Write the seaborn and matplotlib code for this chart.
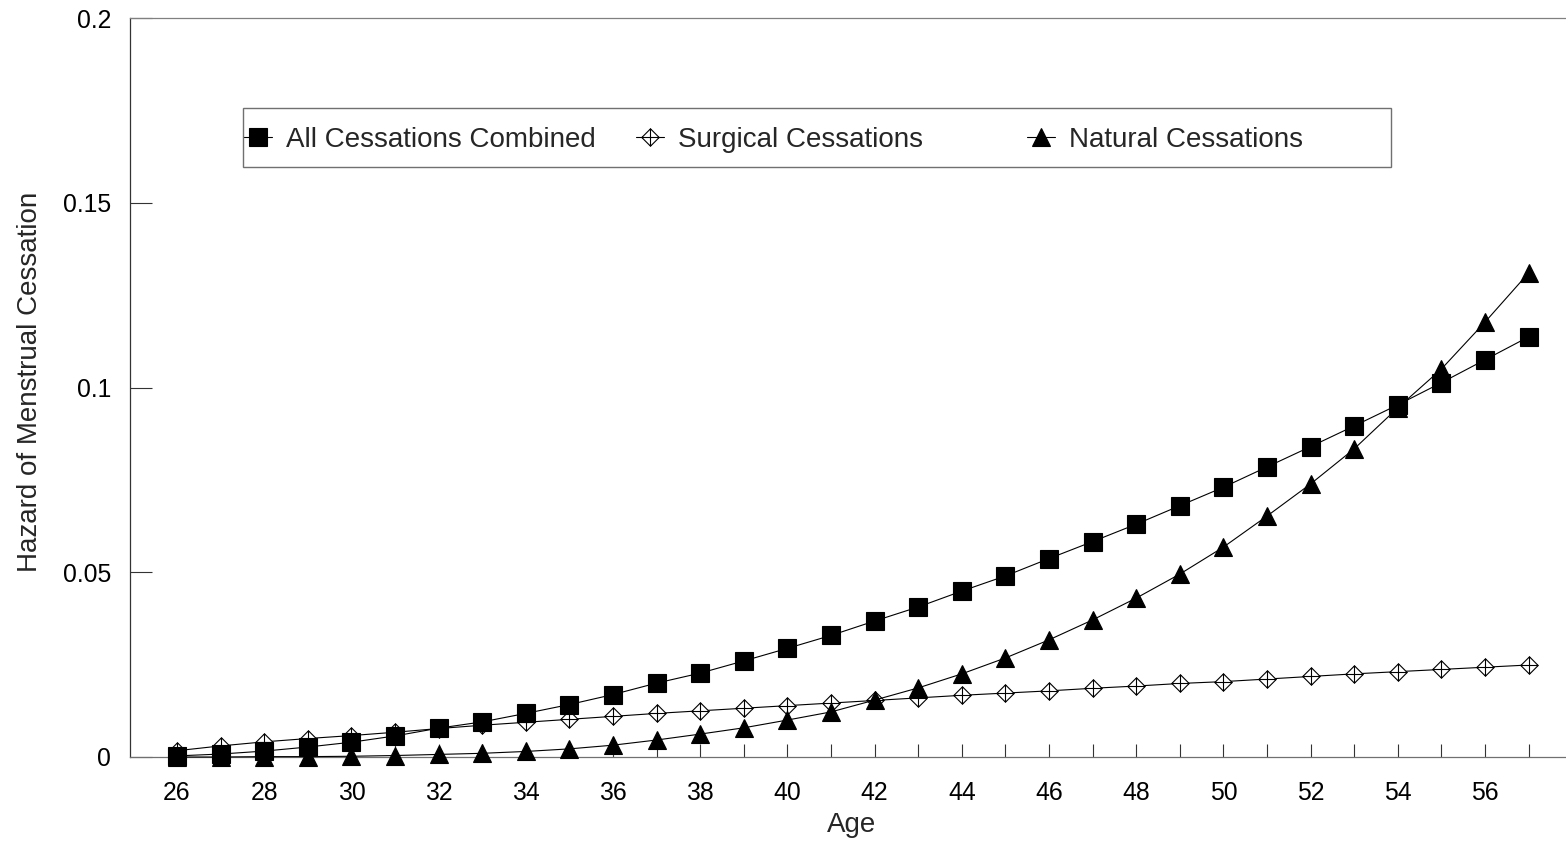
import matplotlib
matplotlib.use("Agg")
import matplotlib.pyplot as plt
import seaborn as sns
import pandas as pd
from matplotlib.path import Path
from matplotlib.patches import Rectangle

# ---------------- data ----------------
ages = list(range(26, 58))

all_combined = [0.0003, 0.0008, 0.0016, 0.0027, 0.0040, 0.0057, 0.0078, 0.0095,
                0.0118, 0.0142, 0.0169, 0.0200, 0.0227, 0.0260, 0.0294, 0.0329,
                0.0368, 0.0406, 0.0449, 0.0490, 0.0537, 0.0583, 0.0630, 0.0680,
                0.0730, 0.0785, 0.0840, 0.0896, 0.0953, 0.1013, 0.1075, 0.1137]

surgical = [0.0017, 0.0030, 0.0041, 0.0050, 0.0058, 0.0067, 0.0077, 0.0086,
            0.0094, 0.0102, 0.0110, 0.0118, 0.0125, 0.0132, 0.0139, 0.0146,
            0.0153, 0.0160, 0.0167, 0.0173, 0.0179, 0.0186, 0.0192, 0.0199,
            0.0204, 0.0211, 0.0218, 0.0225, 0.0231, 0.0237, 0.0243, 0.0249]

natural = [0.0000, 0.0000, 0.0001, 0.0001, 0.0002, 0.0004, 0.0007, 0.0010,
           0.0015, 0.0022, 0.0032, 0.0046, 0.0062, 0.0079, 0.0100, 0.0122,
           0.0154, 0.0187, 0.0225, 0.0268, 0.0317, 0.0371, 0.0430, 0.0495,
           0.0568, 0.0652, 0.0739, 0.0834, 0.0945, 0.1050, 0.1177, 0.1310]

series_labels = ["All Cessations Combined", "Surgical Cessations", "Natural Cessations"]
x_tick_labels = [str(a) if a % 2 == 0 else "" for a in ages]
y_ticks = [0, 0.05, 0.1, 0.15, 0.2]
y_tick_labels = ["0", "0.05", "0.1", "0.15", "0.2"]
x_label = "Age"
y_label = "Hazard of Menstrual Cessation"

# ---------------- style ----------------
sns.set_theme(style="white")
plt.rcParams["font.family"] = ["Liberation Sans", "DejaVu Sans"]

W, H = 1566, 843
fig = plt.figure(figsize=(W / 100, H / 100), dpi=100)
ax = fig.add_axes([130 / W, 1 - 757 / H, 1436 / W, 739 / H])

# diamond with a cross inside
diamond_plus = Path(
    [(0, 1), (1, 0), (0, -1), (-1, 0), (0, 1), (0, 1), (0, -1), (-1, 0), (1, 0)],
    [Path.MOVETO, Path.LINETO, Path.LINETO, Path.LINETO, Path.CLOSEPOLY,
     Path.MOVETO, Path.LINETO, Path.MOVETO, Path.LINETO],
)

df = pd.DataFrame({"age": ages, "all": all_combined,
                   "surg": surgical, "nat": natural})

line_kw = dict(color="black", linewidth=0.8, markeredgecolor="black",
               markeredgewidth=0.8, clip_on=False, ax=ax)

sns.lineplot(data=df, x="age", y="surg", marker=diamond_plus, markersize=12.5,
             markerfacecolor="white", zorder=3, **line_kw)
sns.lineplot(data=df, x="age", y="nat", marker="^", markersize=12.5,
             markerfacecolor="black", zorder=4, **line_kw)
sns.lineplot(data=df, x="age", y="all", marker="s", markersize=13,
             markerfacecolor="black", zorder=5, **line_kw)

h_surg, h_nat, h_all = ax.lines[0], ax.lines[1], ax.lines[2]

# axes limits and ticks
ax.set_xlim(26 - 47 / 43.6, 26 + (1566 - 177) / 43.6)
ax.set_ylim(0, 0.2)
ax.set_xticks(ages)
ax.set_xticklabels(x_tick_labels)
ax.set_yticks(y_ticks)
ax.set_yticklabels(y_tick_labels)
ax.tick_params(axis="x", direction="in", length=9.5, width=0.8, pad=17,
               labelsize=17.8, color="#333333", labelcolor="black", bottom=True)
ax.tick_params(axis="y", direction="in", length=15.5, width=0.8, pad=13.7,
               labelsize=17.8, color="#333333", labelcolor="black", left=True)

for side in ["left", "bottom", "top", "right"]:
    ax.spines[side].set_linewidth(0.9)
ax.spines["left"].set_color("#333333")
ax.spines["bottom"].set_color("#707070")
ax.spines["top"].set_color("#808080")
ax.spines["right"].set_visible(False)

ax.set_xlabel(x_label, fontsize=20)
ax.set_ylabel(y_label, fontsize=20)
ax.xaxis.set_label_coords((852 - 130) / 1436, (757 - 812) / 739)
ax.yaxis.set_label_coords((43 - 130) / 1436, (757 - 381.5) / 739)

# legend box
rect = Rectangle((243 / W, 1 - 167 / H), 1148 / W, 59 / H, transform=fig.transFigure,
                 facecolor="white", edgecolor="#707070", linewidth=1.0, zorder=6)
fig.add_artist(rect)

handles = [h_all, h_surg, h_nat]
starts = [244, 636, 1027]
for hnd, lab, sx in zip(handles, series_labels, starts):
    leg = fig.legend(handles=[hnd], labels=[lab], loc="center left",
                     bbox_to_anchor=(sx / W, 1 - 140 / H), frameon=False,
                     borderpad=0, borderaxespad=0, handlelength=1.0,
                     handletextpad=0.5, fontsize=20)
    leg.set_zorder(7)

fig.savefig("out.png", dpi=100)
